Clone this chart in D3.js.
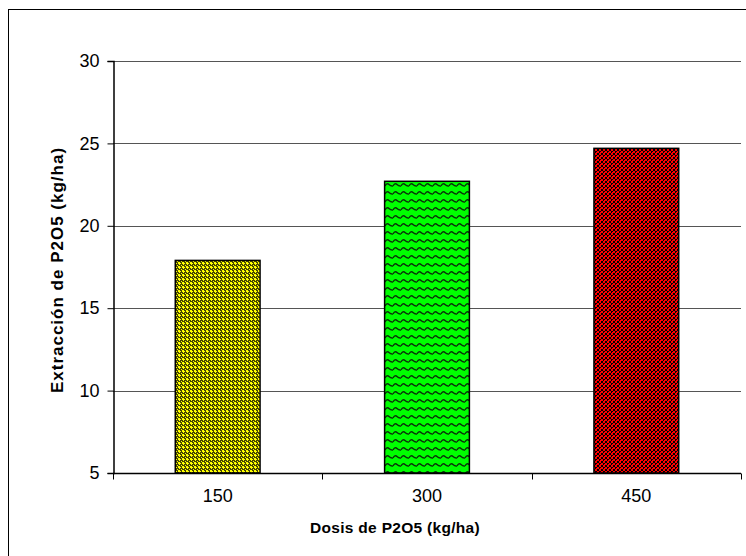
<!DOCTYPE html>
<html>
<head>
<meta charset="utf-8">
<script src="https://d3js.org/d3.v7.min.js"></script>
<style>
  body { margin: 0; background: #fff; }
  svg { display: block; font-family: "Liberation Sans", Arial, sans-serif; }
  pattern rect { shape-rendering: crispEdges; }
</style>
</head>
<body>
<div id="chart"></div>
<script>
// data
const doses = ["150", "300", "450"];
const extraction = [17.9, 22.7, 24.7];
const yTicks = [5, 10, 15, 20, 25, 30];
const barPatterns = ["pat-yellow", "pat-green", "pat-red"];

const width = 746, height = 556;
const margin = { top: 61, right: 5, bottom: 83, left: 113 };
const plotW = width - margin.left - margin.right;
const plotH = height - margin.top - margin.bottom;

const svg = d3.select("#chart").append("svg")
    .attr("width", width)
    .attr("height", height);

// fill patterns, close to the Excel ones
const defs = svg.append("defs");

// yellow: bright little crosses on a dark olive net
const py = defs.append("pattern").attr("id", "pat-yellow")
    .attr("patternUnits", "userSpaceOnUse").attr("width", 4).attr("height", 4);
py.append("rect").attr("width", 4).attr("height", 4).attr("fill", "#464600");
[[2,1],[1,2],[2,2],[3,2],[2,3],[0,0],[1,1]].forEach(p => {
    py.append("rect").attr("x", p[0]).attr("y", p[1]).attr("width", 1).attr("height", 1).attr("fill", "#ffff00");
});

// green: dark waves
const pg = defs.append("pattern").attr("id", "pat-green")
    .attr("patternUnits", "userSpaceOnUse").attr("width", 8).attr("height", 8);
pg.append("rect").attr("width", 8).attr("height", 8).attr("fill", "#00ff00");
pg.append("path").attr("d", "M0,5 Q2,1.5 4,3.5 T8,5")
    .attr("fill", "none").attr("stroke", "#0a300a").attr("stroke-width", 1.5);

// red: black checker squares
const pr = defs.append("pattern").attr("id", "pat-red")
    .attr("patternUnits", "userSpaceOnUse").attr("width", 4).attr("height", 4);
pr.append("rect").attr("width", 4).attr("height", 4).attr("fill", "#ff0000");
[[0,0],[1,0],[0,1],[1,1],[2,2],[3,2],[2,3]].forEach(p => {
    pr.append("rect").attr("x", p[0]).attr("y", p[1]).attr("width", 1).attr("height", 1).attr("fill", "#000");
});

// outer chart frame (runs off the right and bottom of the picture)
svg.append("rect")
    .attr("x", 8.5).attr("y", 9.5)
    .attr("width", width + 20).attr("height", height + 20)
    .attr("fill", "none").attr("stroke", "#000").attr("stroke-width", 1);

const g = svg.append("g").attr("transform", `translate(${margin.left},${margin.top})`);

const x = d3.scaleBand().domain(doses).range([0, plotW]).padding(0);
const y = d3.scaleLinear().domain([5, 30]).range([plotH, 0]);

// gridlines
g.selectAll(".grid").data(yTicks.slice(1)).enter().append("line")
    .attr("x1", 0).attr("x2", plotW)
    .attr("y1", d => Math.round(y(d)) + 0.5).attr("y2", d => Math.round(y(d)) + 0.5)
    .attr("stroke", "#555").attr("stroke-width", 1);

// bars
const barW = x.bandwidth() * 0.405;
g.selectAll(".bar").data(extraction).enter().append("rect")
    .attr("x", (d, i) => x(doses[i]) + (x.bandwidth() - barW) / 2)
    .attr("y", d => y(d))
    .attr("width", barW)
    .attr("height", d => plotH - y(d))
    .attr("fill", (d, i) => `url(#${barPatterns[i]})`)
    .attr("stroke", "#000").attr("stroke-width", 1.5);

// y axis
const yAxis = g.append("g")
    .attr("transform", "translate(0.5,0)")
    .call(d3.axisLeft(y).tickValues(yTicks).tickSize(6).tickPadding(8).tickFormat(d3.format("d")));
yAxis.select(".domain").attr("stroke", "#000").attr("stroke-width", 1.5);
yAxis.selectAll(".tick line").attr("stroke", "#000");
yAxis.selectAll("text").attr("font-size", 18).attr("fill", "#000")
    .attr("font-family", "Liberation Sans, Arial, sans-serif");

// x axis: ticks sit on the category boundaries
const xAxis = g.append("g").attr("transform", `translate(0,${plotH + 0.5})`);
xAxis.append("line").attr("x1", 0).attr("x2", plotW).attr("stroke", "#000").attr("stroke-width", 1.5);
const bounds = doses.map(d => x(d)).concat([plotW]);
xAxis.selectAll(".xt").data(bounds).enter().append("line")
    .attr("x1", d => Math.round(d) + 0.5).attr("x2", d => Math.round(d) + 0.5)
    .attr("y1", 0).attr("y2", 6).attr("stroke", "#000");
xAxis.selectAll(".xl").data(doses).enter().append("text")
    .attr("x", d => x(d) + x.bandwidth() / 2)
    .attr("y", 28)
    .attr("text-anchor", "middle")
    .attr("font-size", 18)
    .text(d => d);

// axis titles
svg.append("text")
    .attr("x", 395)
    .attr("y", 533)
    .attr("text-anchor", "middle")
    .attr("font-size", 15.5).attr("font-weight", "bold")
    .attr("letter-spacing", 0.3)
    .text("Dosis de P2O5 (kg/ha)");

svg.append("text")
    .attr("transform", `translate(63,${margin.top + plotH / 2 + 3}) rotate(-90)`)
    .attr("text-anchor", "middle")
    .attr("font-size", 17).attr("font-weight", "bold")
    .attr("letter-spacing", 1)
    .text("Extracción de P2O5 (kg/ha)");
</script>
</body>
</html>
